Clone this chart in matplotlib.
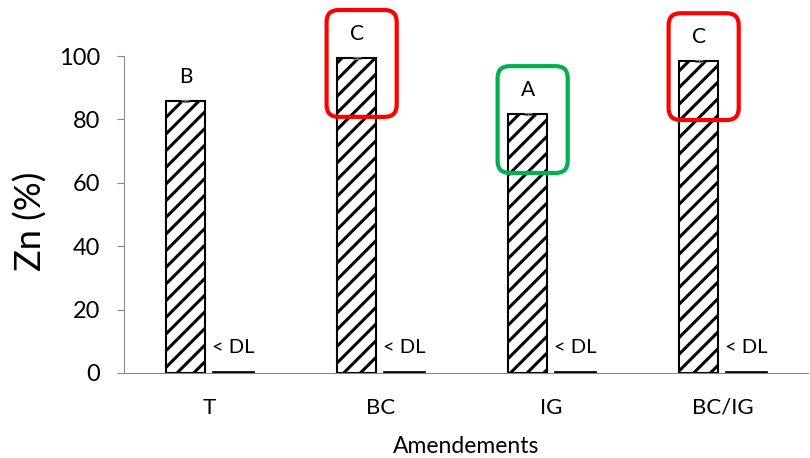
import numpy as np
import matplotlib
matplotlib.use('Agg')
import matplotlib.pyplot as plt
from matplotlib.patches import FancyBboxPatch

plt.rcParams['font.family'] = ['Lato', 'DejaVu Sans']
plt.rcParams['hatch.linewidth'] = 2.2

categories = ['T', 'BC', 'IG', 'BC/IG']
zn_values = [85.8, 99.4, 81.7, 98.4]
zn_err = [0.4, 0.3, 0.4, 0.3]
dl_values = [0.5, 0.5, 0.5, 0.5]
letters = ['B', 'C', 'A', 'C']
dl_label = '< DL'
box_colors = [None, '#ff0000', '#00b050', '#ff0000']

fig = plt.figure(figsize=(8.1, 4.58), dpi=100)
ax = fig.add_axes([0.153, 0.1856, 0.8445, 0.6921])

x = np.arange(len(categories))
w1 = 0.23
w2 = 0.245
off1 = -0.14
off2 = 0.137

ax.bar(x + off1, zn_values, w1, color='white', edgecolor='black', hatch='//',
       linewidth=1.5, yerr=zn_err, capsize=3,
       error_kw=dict(ecolor='#808080', elinewidth=0.8, capthick=0.8))
ax.bar(x + off2, dl_values, w2, color='black', edgecolor='black', linewidth=0.5)

for i in range(len(categories)):
    ax.text(x[i] + off1, zn_values[i] + 7.5, letters[i], ha='center', va='center', fontsize=15)
    ax.text(x[i] + off2, 8.2, dl_label, ha='center', va='center', fontsize=14.5)
    if box_colors[i]:
        bx = x[i] + off1 + 0.03 - 0.205
        by = zn_values[i] - 18.6
        box = FancyBboxPatch((bx, by), 0.41, 33.7,
                             boxstyle='round,pad=0,rounding_size=0.07',
                             mutation_aspect=54, facecolor='none',
                             edgecolor=box_colors[i], linewidth=3, clip_on=False)
        ax.add_patch(box)

ax.set_xlim(-0.5, 3.5)
ax.set_ylim(0, 100)
ax.set_yticks([0, 20, 40, 60, 80, 100])
ax.set_xticks(x)
ax.set_xticklabels(categories)
ax.tick_params(axis='x', length=0, pad=18, labelsize=16)
ax.tick_params(axis='y', length=5, pad=12, labelsize=17, color='#888888')

for s in ['top', 'right']:
    ax.spines[s].set_visible(False)
ax.spines['left'].set_color('#888888')
ax.spines['bottom'].set_color('#888888')

ax.set_ylabel('Zn (%)', fontsize=26)
ax.yaxis.set_label_coords(-0.112, 0.48)
ax.set_xlabel('Amendements', fontsize=16.5)
ax.xaxis.set_label_coords(0.5, -0.2)

fig.savefig('out.png', dpi=100)
